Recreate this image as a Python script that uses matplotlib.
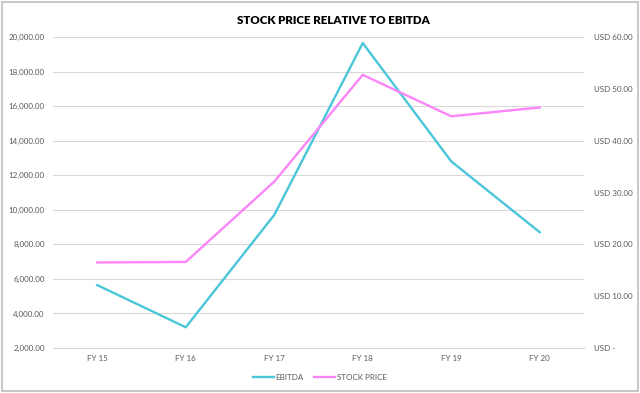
import matplotlib.pyplot as plt
from matplotlib.ticker import FuncFormatter
from matplotlib.patches import Rectangle

years = ["FY 15", "FY 16", "FY 17", "FY 18", "FY 19", "FY 20"]
ebitda = [5640, 3200, 9700, 19650, 12800, 8700]
stock_price = [16.5, 16.6, 32.1, 52.7, 44.7, 46.4]

plt.rcParams['font.family'] = ['Lato', 'DejaVu Sans']

teal = '#4AC6D9'
pink = '#FB85F9'
grey_txt = '#595959'

fig = plt.figure(figsize=(6.4, 3.93), dpi=100)
# plot area in pixels: x 53..584, y 37..348 (of 393)
ax = fig.add_axes([53 / 640, 1 - 348 / 393, 531 / 640, 311 / 393])
ax2 = ax.twinx()

x = [i + 0.5 for i in range(len(years))]
l1, = ax.plot(x, ebitda, color=teal, lw=1.7, label="EBITDA")
l2, = ax2.plot(x, stock_price, color=pink, lw=1.7, label="STOCK PRICE")

ax.set_xlim(0, 6)
ax.set_ylim(2000, 20000)
ax.set_yticks(range(2000, 20001, 2000))
ax.yaxis.set_major_formatter(FuncFormatter(lambda v, p: f"{v:,.2f}"))
ax.grid(axis='y', color='#D9D9D9', lw=0.8)
ax.set_axisbelow(True)
ax.set_xticks(x)
ax.set_xticklabels(years)

ax2.set_ylim(0, 60)
ax2.set_yticks(range(0, 61, 10))
ax2.yaxis.set_major_formatter(
    FuncFormatter(lambda v, p: "USD -" if v == 0 else f"USD {v:.2f}"))

for a in (ax, ax2):
    for s in a.spines.values():
        s.set_visible(False)
    a.tick_params(length=0, labelsize=5.8, labelcolor=grey_txt)
ax.spines['bottom'].set_visible(True)
ax.spines['bottom'].set_color('#D9D9D9')
ax.tick_params(axis='x', pad=5)
ax.tick_params(axis='y', pad=6)
ax2.tick_params(axis='y', pad=7)

fig.text(333 / 640, 1 - 21 / 393, "STOCK PRICE RELATIVE TO EBITDA", ha='center',
         va='center', fontsize=8.3, fontweight='heavy', color='black')

fig.legend(handles=[l1, l2], loc='center', bbox_to_anchor=(0.5, 1 - 377 / 393),
           ncol=2, frameon=False, fontsize=5.8, labelcolor=grey_txt,
           handlelength=2.6, handletextpad=0.2, columnspacing=1.3)

fig.patches.append(Rectangle((0.003, 0.004), 0.994, 0.992, transform=fig.transFigure,
                             fill=False, edgecolor='#BFBFBF', lw=1.2))

fig.savefig("out.png", dpi=100)
